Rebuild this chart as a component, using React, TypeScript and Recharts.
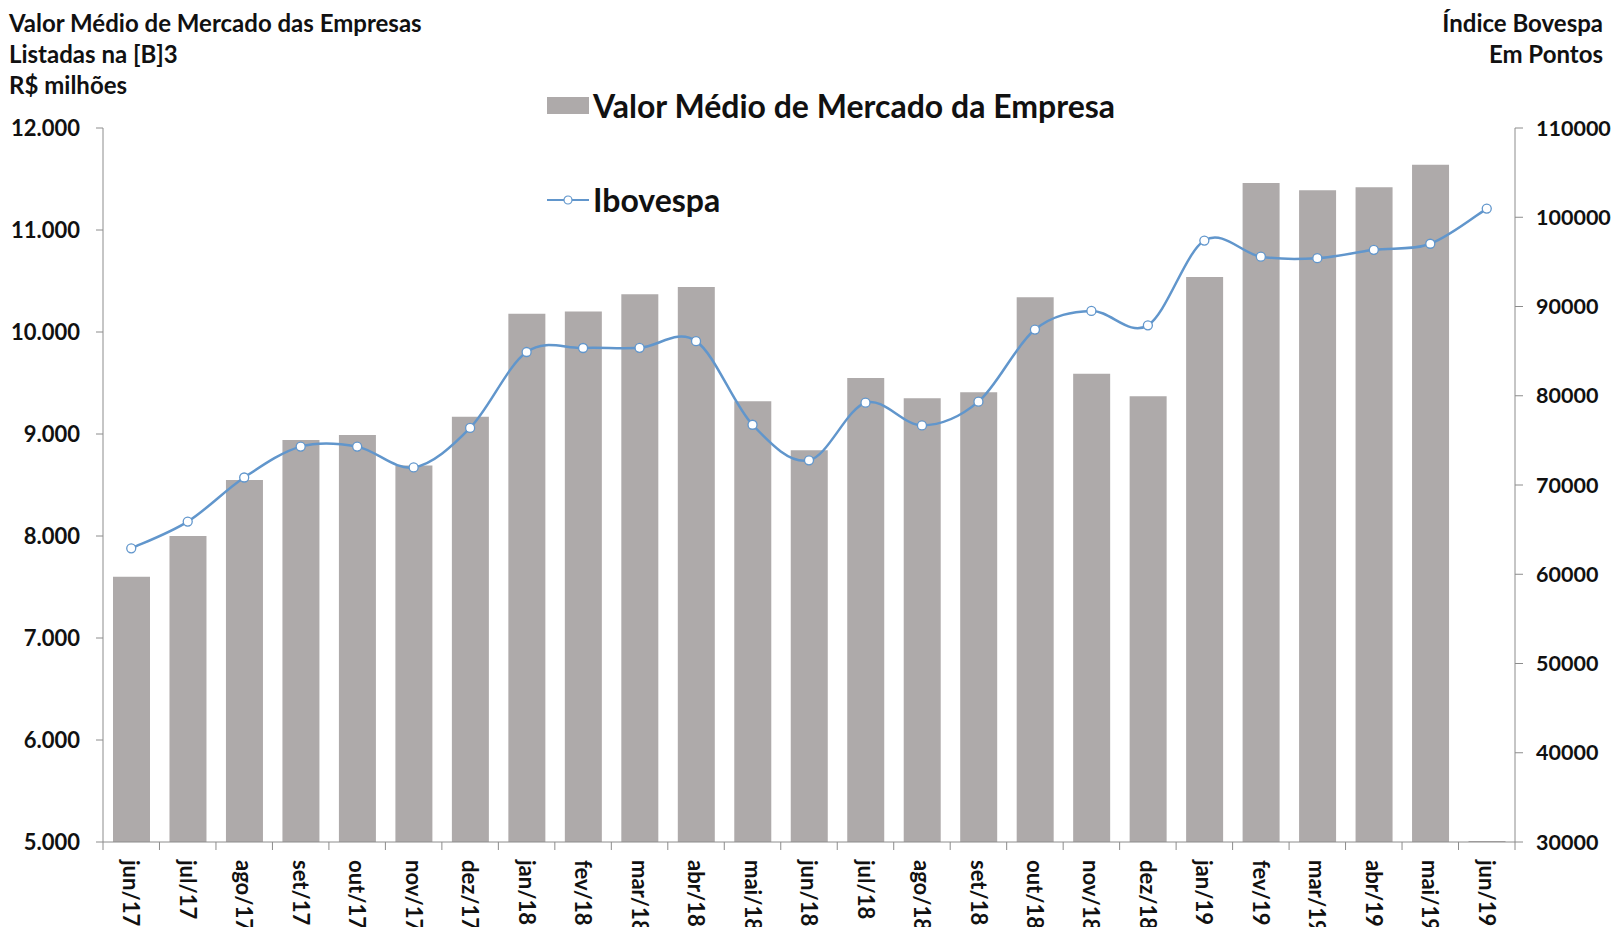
// Valor médio de mercado das empresas listadas na B3 x Ibovespa
// Bars on the left axis (R$ milhões), smoothed line on the right axis (pontos).

import {
  ComposedChart,
  Bar,
  Line,
  XAxis,
  YAxis,
  Legend,
} from "recharts";

const months = [
  "jun/17", "jul/17", "ago/17", "set/17", "out/17", "nov/17", "dez/17",
  "jan/18", "fev/18", "mar/18", "abr/18", "mai/18", "jun/18", "jul/18",
  "ago/18", "set/18", "out/18", "nov/18", "dez/18",
  "jan/19", "fev/19", "mar/19", "abr/19", "mai/19", "jun/19",
];

// R$ milhões
const valorMedio = [
  7600, 8000, 8550, 8940, 8990, 8690, 9170,
  10180, 10200, 10370, 10440, 9320, 8840, 9550,
  9350, 9410, 10340, 9590, 9370,
  10540, 11460, 11390, 11420, 11640, 5010,
];

// pontos
const ibovespa = [
  62900, 65900, 70840, 74300, 74300, 71970, 76400,
  84900, 85350, 85370, 86120, 76750, 72760, 79220,
  76680, 79340, 87420, 89500, 87890,
  97390, 95580, 95410, 96350, 97030, 100970,
];

const leftTicks = [5000, 6000, 7000, 8000, 9000, 10000, 11000, 12000];
const rightTicks = [30000, 40000, 50000, 60000, 70000, 80000, 90000, 100000, 110000];

const data = months.map((m, i) => ({
  month: m,
  valor: valorMedio[i],
  ibov: ibovespa[i],
}));

const BAR_COLOR = "#aeaaaa";
const LINE_COLOR = "#6196cc";
const AXIS_COLOR = "#8c8c8c";
const FONT = "Lato, 'Open Sans', sans-serif";

const fmtThousands = (v: number) =>
  v.toString().replace(/\B(?=(\d{3})+(?!\d))/g, ".");

// Excel-like smoothing (catmull-rom through the points)
function excelSmooth(context: any) {
  let pts: number[][] = [];
  return {
    areaStart() {},
    areaEnd() {},
    lineStart() {
      pts = [];
    },
    point(x: number, y: number) {
      pts.push([+x, +y]);
    },
    lineEnd() {
      if (!pts.length) return;
      context.moveTo(pts[0][0], pts[0][1]);
      const t = 1 / 6;
      for (let i = 0; i < pts.length - 1; i++) {
        const p0 = pts[i - 1] || pts[i];
        const p1 = pts[i];
        const p2 = pts[i + 1];
        const p3 = pts[i + 2] || p2;
        context.bezierCurveTo(
          p1[0] + (p2[0] - p0[0]) * t,
          p1[1] + (p2[1] - p0[1]) * t,
          p2[0] - (p3[0] - p1[0]) * t,
          p2[1] - (p3[1] - p1[1]) * t,
          p2[0],
          p2[1]
        );
      }
    },
  };
}

const PLOT_LEFT = 103;
const PLOT_RIGHT = 1515;
const HALF_BAND = (PLOT_RIGHT - PLOT_LEFT) / months.length / 2;

const MonthTick = (props: any) => {
  const { x, y, payload, index } = props;
  const half = payload && payload.offset ? payload.offset : HALF_BAND;
  const last = index === months.length - 1;
  return (
    <g>
      <line x1={x - half} x2={x - half} y1={y - 8} y2={y} stroke={AXIS_COLOR} />
      {last && (
        <line x1={x + half} x2={x + half} y1={y - 8} y2={y} stroke={AXIS_COLOR} />
      )}
      <text
        x={x}
        y={y + 10}
        transform={`rotate(90, ${x}, ${y + 10})`}
        textAnchor="start"
        dy="0.36em"
        fontFamily={FONT}
        fontWeight={700}
        fontSize={22}
        fill="#111"
      >
        {payload.value}
      </text>
    </g>
  );
};

function LegendBox() {
  return (
    <div style={{ position: "relative", width: 1619, height: 0, fontFamily: FONT, fontWeight: 700, color: "#111" }}>
      <div style={{ position: "absolute", left: 547, top: 86, display: "flex", alignItems: "center", whiteSpace: "nowrap" }}>
        <span style={{ display: "inline-block", width: 42, height: 17, background: BAR_COLOR }} />
        <span style={{ fontSize: 32, marginLeft: 4 }}>Valor Médio de Mercado da Empresa</span>
      </div>
      <div style={{ position: "absolute", left: 547, top: 180, display: "flex", alignItems: "center", whiteSpace: "nowrap" }}>
        <svg width={42} height={12}>
          <line x1={0} x2={42} y1={6} y2={6} stroke={LINE_COLOR} strokeWidth={2} />
          <circle cx={21} cy={6} r={4} fill="#fff" stroke={LINE_COLOR} strokeWidth={1.2} />
        </svg>
        <span style={{ fontSize: 32, marginLeft: 4 }}>Ibovespa</span>
      </div>
    </div>
  );
}

export default function App() {
  const titleStyle: React.CSSProperties = {
    position: "absolute",
    fontFamily: FONT,
    fontWeight: 700,
    fontSize: 24,
    lineHeight: "31px",
    color: "#111",
  };
  return (
    <div style={{ position: "relative", width: 1619, height: 935, margin: -8, background: "#fff" }}>
      <div style={{ ...titleStyle, left: 9, top: 7 }}>
        Valor Médio de Mercado das Empresas
        <br />
        Listadas na [B]3
        <br />
        R$ milhões
      </div>
      <div style={{ ...titleStyle, right: 16, top: 7, textAlign: "right" }}>
        Índice Bovespa
        <br />
        Em Pontos
      </div>
      <ComposedChart
        width={1619}
        height={935}
        data={data}
        margin={{ top: 128, right: 9, bottom: 0, left: 8 }}
        style={{ position: "absolute", left: 0, top: 0 }}
      >
        <XAxis
          dataKey="month"
          interval={0}
          height={93}
          axisLine={{ stroke: AXIS_COLOR }}
          tickLine={false}
          tick={<MonthTick />}
        />
        <YAxis
          yAxisId="left"
          orientation="left"
          width={95}
          domain={[5000, 12000]}
          ticks={leftTicks}
          interval={0}
          allowDataOverflow
          tickFormatter={fmtThousands}
          axisLine={{ stroke: AXIS_COLOR }}
          tickLine={{ stroke: AXIS_COLOR }}
          tickSize={7}
          tickMargin={16}
          tick={{ fontFamily: FONT, fontWeight: 700, fontSize: 22, fill: "#111" }}
        />
        <YAxis
          yAxisId="right"
          orientation="right"
          width={95}
          domain={[30000, 110000]}
          ticks={rightTicks}
          interval={0}
          axisLine={{ stroke: AXIS_COLOR }}
          tickLine={{ stroke: AXIS_COLOR }}
          tickSize={8}
          tickMargin={13}
          tick={{ fontFamily: FONT, fontWeight: 700, fontSize: 21.5, fill: "#111" }}
        />
        <Legend
          content={() => <LegendBox />}
          wrapperStyle={{ position: "absolute", left: 0, top: 0, width: 1619, height: 0 }}
        />
        <Bar
          yAxisId="left"
          dataKey="valor"
          name="Valor Médio de Mercado da Empresa"
          fill={BAR_COLOR}
          barSize={37}
          isAnimationActive={false}
        />
        <Line
          yAxisId="right"
          dataKey="ibov"
          name="Ibovespa"
          type={excelSmooth as any}
          stroke={LINE_COLOR}
          strokeWidth={2.5}
          dot={{ r: 4.5, fill: "#fff", stroke: LINE_COLOR, strokeWidth: 1.3 }}
          activeDot={false}
          isAnimationActive={false}
        />
      </ComposedChart>
    </div>
  );
}
